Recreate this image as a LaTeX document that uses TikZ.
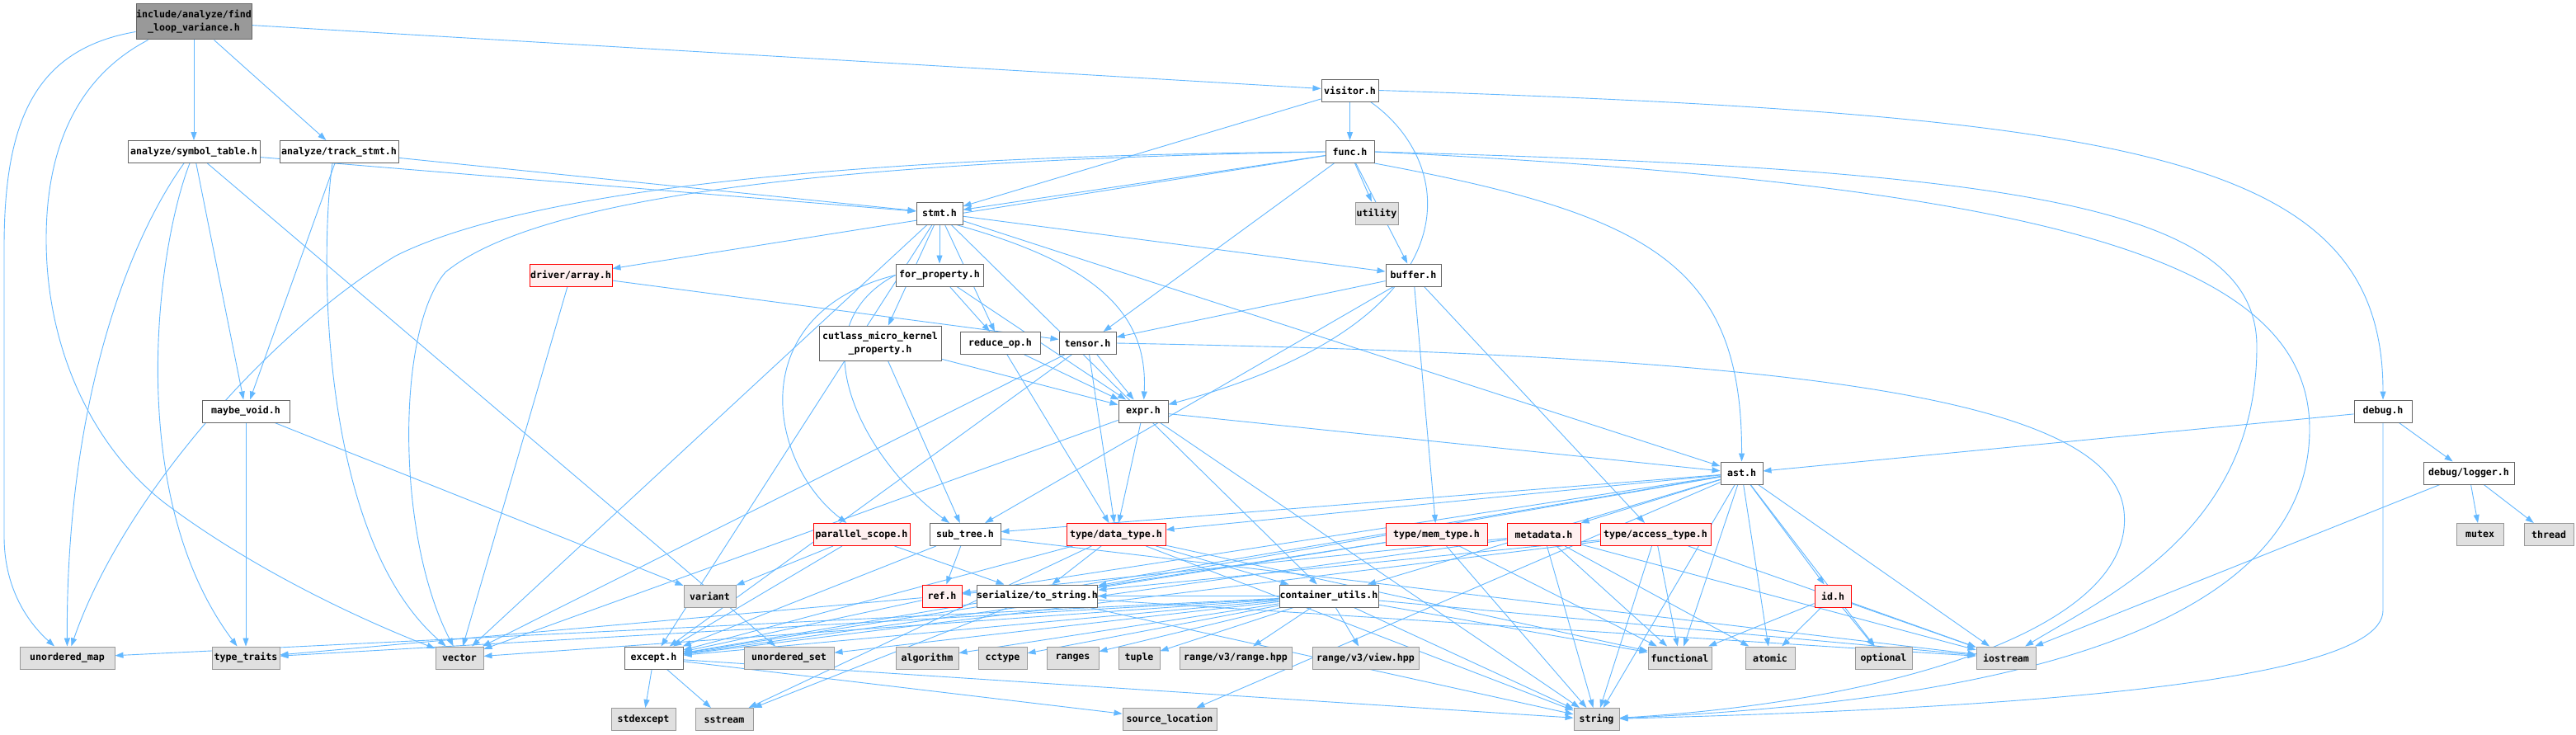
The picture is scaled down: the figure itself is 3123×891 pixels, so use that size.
\documentclass[tikz,border=0pt]{standalone}
\usepackage{fontspec}
\setmainfont{Liberation Sans}
\newfontfamily\nodefont{DejaVu Sans Mono}
\usetikzlibrary{arrows.meta}
\pgfdeclarelayer{edgelayer}
\pgfdeclarelayer{bglayer}
\pgfsetlayers{bglayer,edgelayer,main}
\definecolor{edgec}{HTML}{63B8FF}
\definecolor{bd}{HTML}{666666}
\definecolor{extbd}{HTML}{999999}
\definecolor{extfill}{HTML}{E0E0E0}
\definecolor{redfill}{HTML}{FFF0F0}
\definecolor{rootfill}{HTML}{999999}
\begin{document}
\begin{tikzpicture}[x=1pt,y=-1pt,
  base/.style={rectangle, inner sep=0pt, minimum height=27pt, line width=1pt, font=\nodefont\bfseries\fontsize{11.6}{16}\selectfont, text=black},
  bx/.style={base, draw=bd, fill=white},
  ext/.style={base, draw=extbd, fill=extfill},
  redb/.style={base, draw=red, fill=redfill},
  rootb/.style={base, draw=bd, fill=rootfill, align=center, minimum height=43pt},
  e/.style={draw=edgec, line width=0.9pt, -{Triangle[length=10pt,width=7pt]}}]
\useasboundingbox (0,0) rectangle (3123,891);
\begin{pgfonlayer}{bglayer}
\fill[white] (0,0) rectangle (3123,891);
\end{pgfonlayer}

% nodes
\node[rootb, minimum width=140pt] (root) at (235,26.5) {include/analyze/find\\\_loop\_variance.h};
\node[bx, minimum width=160pt] (st) at (235,184) {analyze/symbol\_table.h};
\node[bx, minimum width=144pt] (ts) at (411,184) {analyze/track\_stmt.h};
\node[bx, minimum width=69pt] (vis) at (1636.5,109.5) {visitor.h};
\node[bx, minimum width=59pt] (func) at (1636.5,184) {func.h};
\node[bx, minimum width=56pt] (stmt) at (1139,258.5) {stmt.h};
\node[ext, minimum width=52pt] (util) at (1669,258.5) {utility};
\node[redb, minimum width=100pt] (arr) at (692,333.5) {driver/array.h};
\node[bx, minimum width=106pt] (fp) at (1139,333.5) {for\_property.h};
\node[bx, minimum width=67pt] (buf) at (1713.5,333.5) {buffer.h};
\node[bx, minimum width=148pt, minimum height=42pt, align=center] (cut) at (1067,416) {cutlass\_micro\_kernel\\\_property.h};
\node[bx, minimum width=97pt] (red) at (1212.5,416) {reduce\_op.h};
\node[bx, minimum width=69pt] (ten) at (1318.5,416) {tensor.h};
\node[bx, minimum width=60pt] (expr) at (1386,498.5) {expr.h};
\node[bx, minimum width=106pt] (mv) at (298,498.5) {maybe\_void.h};
\node[bx, minimum width=70pt] (dbg) at (2889,498.5) {debug.h};
\node[bx, minimum width=51pt] (ast) at (2111.5,573.5) {ast.h};
\node[bx, minimum width=110pt] (log) at (2993,573.5) {debug/logger.h};
\node[redb, minimum width=117pt] (ps) at (1044.5,648) {parallel\_scope.h};
\node[bx, minimum width=86pt] (subt) at (1170,648) {sub\_tree.h};
\node[redb, minimum width=120pt] (dt) at (1353,648) {type/data\_type.h};
\node[redb, minimum width=123pt] (mt) at (1741.5,648) {type/mem\_type.h};
\node[redb, minimum width=89pt] (md) at (1871.5,648) {metadata.h};
\node[redb, minimum width=134pt] (at) at (2007,648) {type/access\_type.h};
\node[ext, minimum width=57pt] (mutex) at (3006.5,648) {mutex};
\node[ext, minimum width=60pt] (thread) at (3090,648) {thread};
\node[ext, minimum width=63pt] (var) at (860.5,722.5) {variant};
\node[redb, minimum width=48pt] (ref) at (1142,722.5) {ref.h};
\node[bx, minimum width=135pt] (ser) at (1257.5,722.5) {serialize/to\_string.h};
\node[bx, minimum width=120pt] (cu) at (1611,722.5) {container\_utils.h};
\node[redb, minimum width=44pt] (id) at (2222,722.5) {id.h};
\node[ext, minimum width=115pt] (umap) at (81.5,797.5) {unordered\_map};
\node[ext, minimum width=82pt] (tt) at (298,797.5) {type\_traits};
\node[ext, minimum width=58pt] (vec) at (557,797.5) {vector};
\node[bx, minimum width=71pt] (exc) at (792.5,797.5) {except.h};
\node[ext, minimum width=109pt] (uset) at (956.5,797.5) {unordered\_set};
\node[ext, minimum width=76pt] (alg) at (1124,797.5) {algorithm};
\node[ext, minimum width=59pt] (cct) at (1215.5,797.5) {cctype};
\node[ext, minimum width=63pt] (rng) at (1300.5,797.5) {ranges};
\node[ext, minimum width=50pt] (tup) at (1381,797.5) {tuple};
\node[ext, minimum width=136pt] (r3r) at (1498,797.5) {range/v3/range.hpp};
\node[ext, minimum width=129pt] (r3v) at (1655.5,797.5) {range/v3/view.hpp};
\node[ext, minimum width=77pt] (fn) at (2036.5,797.5) {functional};
\node[ext, minimum width=60pt] (atom) at (2146,797.5) {atomic};
\node[ext, minimum width=69pt] (opt) at (2283.5,797.5) {optional};
\node[ext, minimum width=72pt] (ios) at (2432,797.5) {iostream};
\node[ext, minimum width=78pt] (stdexc) at (780,872) {stdexcept};
\node[ext, minimum width=70pt] (sstr) at (878,872) {sstream};
\node[ext, minimum width=114pt] (srcloc) at (1418,872) {source\_location};
\node[ext, minimum width=55pt] (str) at (1935.5,872) {string};

\begin{pgfonlayer}{edgelayer}
% root
\draw[e] (root) -- (st);
\draw[e] (root) -- (ts);
\draw[e] (root) -- (vis);
\draw[e] ([yshift=-12pt]root.west) .. controls (40,60) and (5,150) .. (5,300) -- (5,650) .. controls (5,720) and (40,760) .. (umap);
\draw[e] ([xshift=15pt]root.south west) .. controls (100,90) and (56,170) .. (56,290) .. controls (56,420) and (110,540) .. (200,610) .. controls (320,700) and (460,760) .. (vec);
% symbol table
\draw[e] ([xshift=-12pt]st.south) .. controls (150,300) and (80,500) .. (umap);
\draw[e] ([xshift=-5pt]st.south) .. controls (190,300) and (150,600) .. (tt);
\draw[e] (st) -- (uset);
\draw[e] (st) -- (mv);
\draw[e] (st) -- (stmt);
% track stmt
\draw[e] (ts) -- (mv);
\draw[e] ([xshift=-8pt]ts.south) .. controls (388,300) and (385,650) .. (vec);
\draw[e] (ts) -- (stmt);
% maybe void
\draw[e] (mv) -- (tt);
\draw[e] (mv) -- (var);
% visitor
\draw[e] (vis) -- (func);
\draw[e] (vis) -- (stmt);
\draw[e] ([xshift=-10pt]vis.south east) .. controls (1770,200) and (1790,390) .. (expr);
\draw[e] (vis.east) .. controls (2600,140) and (2889,190) .. (dbg);
% func
\draw[e] (func) -- (stmt);
\draw[e] (func) -- (util);
\draw[e] (func) -- (buf);
\draw[e] (func) -- (ten);
\draw[e] (func) -- (arr);
\draw[e] (func.south east) .. controls (2000,260) and (2112,320) .. (ast);
\draw[e] (func.west) .. controls (900,190) and (600,250) .. (480,310) .. controls (330,400) and (150,600) .. (umap);
\draw[e] (func.west) .. controls (1000,195) and (650,240) .. (540,330) .. controls (480,400) and (480,650) .. (vec);
\draw[e] (func.east) .. controls (2450,205) and (2736,250) .. (2736,420) .. controls (2736,640) and (2560,720) .. (ios);
\draw[e] (func.east) .. controls (2500,225) and (2800,320) .. (2800,520) .. controls (2800,800) and (2300,855) .. (str);
% stmt
\draw[e] (stmt) -- (fp);
\draw[e] (stmt) -- (cut);
\draw[e] (stmt) -- (red);
\draw[e] (stmt) -- (buf);
\draw[e] (stmt) -- (ast);
\draw[e] (stmt) -- (exc);
\draw[e] (stmt) -- (vec);
\draw[e] (stmt) -- (cu);
\draw[e] ([xshift=-8pt]stmt.south east) .. controls (1330,320) and (1392,380) .. (expr);
% driver/array
\draw[e] (arr) -- (ten);
\draw[e] (arr) -- (vec);
% for_property
\draw[e] (fp.west) .. controls (900,380) and (930,560) .. (ps);
\draw[e] (fp.west) .. controls (960,400) and (1050,560) .. (subt);
\draw[e] (fp) -- (red);
\draw[e] (fp) -- (expr);
% cutlass, reduce
\draw[e] (cut) -- (expr);
\draw[e] (cut) -- (subt);
\draw[e] (red) -- (expr);
\draw[e] (red) -- (dt);
% buffer
\draw[e] (buf) -- (ten);
\draw[e] (buf) -- (subt);
\draw[e] (buf) -- (mt);
\draw[e] (buf) -- (at);
% tensor
\draw[e] (ten) -- (expr);
\draw[e] (ten) -- (dt);
\draw[e] (ten) -- (vec);
\draw[e] (ten) -- (exc);
\draw[e] (ten.east) .. controls (2100,430) and (2560,470) .. (2575,620) .. controls (2590,760) and (2300,850) .. (str);
% expr
\draw[e] (expr) -- (ast);
\draw[e] (expr) -- (dt);
\draw[e] (expr) -- (vec);
\draw[e] (expr) -- (str);
% debug
\draw[e] (dbg) -- (ast);
\draw[e] (dbg) -- (log);
\draw[e] (dbg.south) -- (2889,740) .. controls (2889,840) and (2300,862) .. (str);
\draw[e] (log) -- (ios);
\draw[e] (log) -- (mutex);
\draw[e] (log) -- (thread);
% ast
\draw[e] (ast) -- (subt);
\draw[e] (ast) -- (dt);
\draw[e] (ast) -- (ref);
\draw[e] (ast) -- (ser);
\draw[e] (ast) -- (cu);
\draw[e] (ast) -- (md);
\draw[e] (ast) -- (id);
\draw[e] (ast) -- (fn);
\draw[e] (ast) -- (atom);
\draw[e] (ast) -- (opt);
\draw[e] (ast) -- (ios);
\draw[e] (ast) -- (str);
\draw[e] (ast) -- (srcloc);
\draw[e] (ast) -- (exc);
% parallel scope
\draw[e] (ps) -- (var);
\draw[e] (ps) -- (exc);
\draw[e] (ps) -- (ser);
% sub_tree
\draw[e] (subt) -- (ref);
\draw[e] (subt) -- (exc);
\draw[e] (subt) -- (ios);
% data type
\draw[e] (dt) -- (ser);
\draw[e] (dt) -- (cu);
\draw[e] (dt) -- (str);
\draw[e] (dt) -- (exc);
\draw[e] (dt) -- (fn);
\draw[e] (dt) -- (sstr);
% mem type
\draw[e] (mt) -- (ser);
\draw[e] (mt) -- (exc);
\draw[e] (mt) -- (str);
\draw[e] (mt) -- (fn);
% metadata
\draw[e] (md) -- (ref);
\draw[e] (md) -- (str);
\draw[e] (md) -- (fn);
\draw[e] (md) -- (atom);
\draw[e] (md) -- (ios);
\draw[e] (md) -- (exc);
% access type
\draw[e] (at) -- (ser);
\draw[e] (at) -- (exc);
\draw[e] (at) -- (str);
\draw[e] (at) -- (ios);
\draw[e] (at) -- (fn);
% ref
\draw[e] (ref) -- (exc);
\draw[e] (ref) -- (tt);
% serialize
\draw[e] (ser) -- (str);
\draw[e] (ser) -- (sstr);
\draw[e] (ser) -- (ios);
% container utils
\draw[e] (cu) -- (alg);
\draw[e] (cu) -- (cct);
\draw[e] (cu) -- (rng);
\draw[e] (cu) -- (tup);
\draw[e] (cu) -- (r3r);
\draw[e] (cu) -- (r3v);
\draw[e] (cu) -- (umap);
\draw[e] (cu) -- (uset);
\draw[e] (cu) -- (vec);
\draw[e] (cu) -- (exc);
\draw[e] (cu) -- (str);
\draw[e] (cu) -- (ios);
\draw[e] (cu) -- (tt);
\draw[e] (cu) -- (fn);
\draw[e] (cu) -- (ser);
% id
\draw[e] (id) -- (fn);
\draw[e] (id) -- (atom);
\draw[e] (id) -- (ios);
\draw[e] (id) -- (opt);
% except
\draw[e] (exc) -- (stdexc);
\draw[e] (exc) -- (sstr);
\draw[e] (exc) -- (str);
\draw[e] (exc) -- (srcloc);
\end{pgfonlayer}
\end{tikzpicture}
\end{document}
